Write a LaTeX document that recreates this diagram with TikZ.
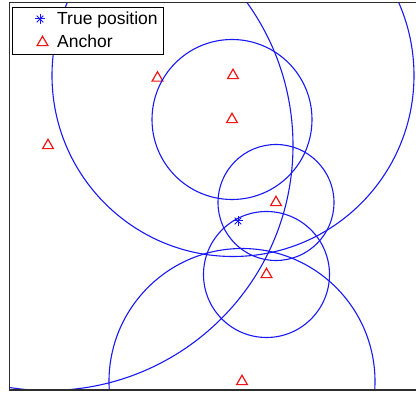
\documentclass[tikz,border=0pt]{standalone}
\usepackage{fontspec}
\setmainfont{Liberation Sans}
\usetikzlibrary{shapes.geometric}
\definecolor{axisgray}{RGB}{45,45,45}
\definecolor{rangeblue}{RGB}{25,25,245}
\definecolor{markred}{RGB}{240,20,20}

\begin{document}
\begin{tikzpicture}[x=1pt,y=-1pt,
  every node/.style={font=\fontsize{17.5}{20}\selectfont},
  rangecircle/.style={draw=rangeblue,line width=1.1pt},
  anchormark/.style={regular polygon,regular polygon sides=3,draw=markred,line width=1.2pt,minimum size=12.5pt,inner sep=0pt},
  truemark/.style={minimum size=10pt,inner sep=0pt,
    path picture={\foreach \a in {0,45,90,135}
      \draw[rangeblue,line width=1pt,shift={(path picture bounding box.center)}] (\a:4.6pt) -- (\a+180:4.6pt);}}]
  \useasboundingbox (0,0) rectangle (416,395);
  % anchors and true position
  \node[anchormark] (a1) at (157.5,78) {};
  \node[anchormark] (a2) at (233,75.5) {};
  \node[anchormark] (a3) at (232,119.5) {};
  \node[anchormark] (a4) at (48,145.5) {};
  \node[anchormark] (a5) at (276,202.5) {};
  \node[anchormark] (a6) at (266.5,274.5) {};
  \node[anchormark] (a7) at (242,381.5) {};
  \node[truemark] (tp) at (238,221) {};
  % range circles
  \begin{scope}
    \clip (9.5,2.7) rectangle (430,390);
    \draw[rangecircle] (a2.center) circle[radius=181pt];
    \draw[rangecircle] (a3.center) circle[radius=80pt];
    \draw[rangecircle] (a5.center) circle[radius=58pt];
    \draw[rangecircle] (a6.center) circle[radius=63pt];
    \draw[rangecircle] (a7.center) circle[radius=133pt];
    \draw[rangecircle] (a4.center) circle[radius=245pt];
  \end{scope}
  % axes
  \draw[axisgray,line width=1.3pt] (430,2.7) -- (9.5,2.7) -- (9.5,390) -- (430,390);
  % legend
  \draw[black,line width=0.8pt,fill=white] (12,7) rectangle (163,54);
  \node[truemark] (legtp) at (40,19) {};
  \node[anchor=base west,inner sep=0pt] (legtptext) at (57,25) {True position};
  \node[anchormark] (leganc) at (42.5,42.5) {};
  \node[anchor=base west,inner sep=0pt] (legunctext) at (57,47.5) {Anchor};
\end{tikzpicture}
\end{document}
